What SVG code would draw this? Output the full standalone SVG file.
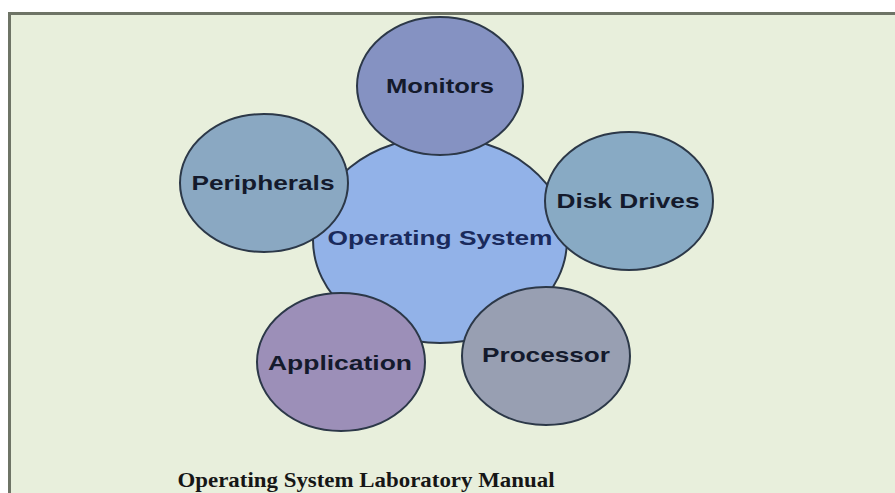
<svg xmlns="http://www.w3.org/2000/svg" width="895" height="493" viewBox="0 0 895 493">
<style>
.node ellipse{stroke:#2c3848;stroke-width:2}
.lbl{font-family:"Liberation Sans",Arial,sans-serif;font-weight:bold;font-size:21px;fill:#141a2c;text-anchor:middle}
.title{font-family:"Liberation Serif","Times New Roman",serif;font-weight:bold;font-size:22px;fill:#161616;text-anchor:middle}
</style>
<rect x="0" y="0" width="895" height="493" fill="#ffffff"/>
<rect x="9.5" y="13.5" width="900" height="500" fill="#e8efdc" stroke="#6e7466" stroke-width="3"/>
<g id="connectors"></g>
<g id="os" class="node">
<ellipse cx="440" cy="240" rx="127" ry="103" fill="#92b2e8"/>
<text class="lbl" x="440" y="245" textLength="225" lengthAdjust="spacingAndGlyphs" style="fill:#1a2a5c">Operating System</text>
</g>
<g id="monitors" class="node">
<ellipse cx="440" cy="86" rx="83" ry="69" fill="#8592c2"/>
<text class="lbl" x="440" y="93" textLength="108" lengthAdjust="spacingAndGlyphs">Monitors</text>
</g>
<g id="peripherals" class="node">
<ellipse cx="264" cy="183" rx="84" ry="69" fill="#8aa8c2"/>
<text class="lbl" x="263" y="190" textLength="143" lengthAdjust="spacingAndGlyphs">Peripherals</text>
</g>
<g id="diskdrives" class="node">
<ellipse cx="629" cy="201" rx="84" ry="69" fill="#88aac4"/>
<text class="lbl" x="628" y="208" textLength="143" lengthAdjust="spacingAndGlyphs">Disk Drives</text>
</g>
<g id="application" class="node">
<ellipse cx="341" cy="362" rx="84" ry="69" fill="#9c8fb8"/>
<text class="lbl" x="340" y="370" textLength="144" lengthAdjust="spacingAndGlyphs">Application</text>
</g>
<g id="processor" class="node">
<ellipse cx="546" cy="356" rx="84" ry="69" fill="#989fb2"/>
<text class="lbl" x="546" y="362" textLength="128" lengthAdjust="spacingAndGlyphs">Processor</text>
</g>
<text class="title" x="366" y="487" textLength="377" lengthAdjust="spacingAndGlyphs">Operating System Laboratory Manual</text>
</svg>
